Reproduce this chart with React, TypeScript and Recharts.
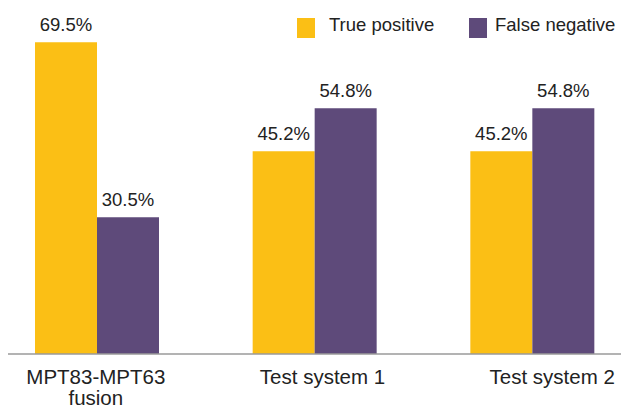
import React from "react";
import { BarChart, Bar, XAxis, YAxis, LabelList, Legend } from "recharts";

const categories = ["MPT83-MPT63\nfusion", "Test system 1", "Test system 2"];
const truePositive = [69.5, 45.2, 45.2];
const falseNegative = [30.5, 54.8, 54.8];
const seriesNames = ["True positive", "False negative"];

const YELLOW = "#FBBF15";
const PURPLE = "#5E4A7A";
const TEXT = "#222222";
const FONT = "Arial, 'Liberation Sans', sans-serif";
const TICK_DX = [-1, 8, 20];

const data = categories.map((c, i) => ({
  name: c,
  tp: truePositive[i],
  fn: falseNegative[i],
}));

const Tick = (props: any) => {
  const { x, y, payload, index } = props;
  const lines = String(payload.value).split("\n");
  const cx = x + (TICK_DX[index] ?? 0);
  return (
    <text x={cx} y={y} textAnchor="middle" fill={TEXT} fontSize={20.5} fontFamily={FONT}>
      {lines.map((l, i) => (
        <tspan key={i} x={cx} dy={i === 0 ? 22 : 21}>
          {l}
        </tspan>
      ))}
    </text>
  );
};

const LegendContent = (props: any) => {
  const items = [...(props.payload || [])].sort(
    (a: any, b: any) => seriesNames.indexOf(a.value) - seriesNames.indexOf(b.value)
  );
  return (
    <div style={{ position: "relative", height: 22, fontFamily: FONT, fontSize: 18.5, color: TEXT }}>
      {items.map((it: any, i: number) => (
        <div
          key={i}
          style={{ position: "absolute", left: i === 0 ? 0 : 172, top: 0, display: "flex", alignItems: "flex-start", whiteSpace: "nowrap" }}
        >
          <span style={{ display: "inline-block", width: 18, height: 20, background: it.color }} />
          <span style={{ marginLeft: i === 0 ? 14 : 8, lineHeight: "20px", position: "relative", top: -3 }}>{it.value}</span>
        </div>
      ))}
    </div>
  );
};

export default function App() {
  return (
    <>
      <style>{"html,body{overflow:hidden;margin:0} #root{width:621px;height:408px}"}</style>
      <BarChart
        width={621}
        height={408}
        data={data}
        margin={{ top: 40, right: 0, bottom: 0, left: 8 }}
        barGap={0}
      >
        <XAxis
          dataKey="name"
          axisLine={{ stroke: "#9a9a9a", strokeWidth: 1.5 }}
          tickLine={false}
          tick={<Tick />}
          height={54}
          interval={0}
          padding={{ left: -20, right: -20 }}
        />
        <YAxis hide domain={[0, 70]} />
        <Legend
          verticalAlign="middle"
          layout="horizontal"
          content={<LegendContent />}
          wrapperStyle={{ top: 18, left: 297, width: 324, height: 22 }}
        />
        <Bar dataKey="tp" name={seriesNames[0]} fill={YELLOW} barSize={62} isAnimationActive={false}>
          <LabelList
            dataKey="tp"
            position="top"
            offset={11}
            formatter={(v: any) => `${v}%`}
            fill={TEXT}
            fontSize={18.5}
            fontFamily={FONT}
          />
        </Bar>
        <Bar dataKey="fn" name={seriesNames[1]} fill={PURPLE} barSize={62} isAnimationActive={false}>
          <LabelList
            dataKey="fn"
            position="top"
            offset={11}
            formatter={(v: any) => `${v}%`}
            fill={TEXT}
            fontSize={18.5}
            fontFamily={FONT}
          />
        </Bar>
      </BarChart>
    </>
  );
}
